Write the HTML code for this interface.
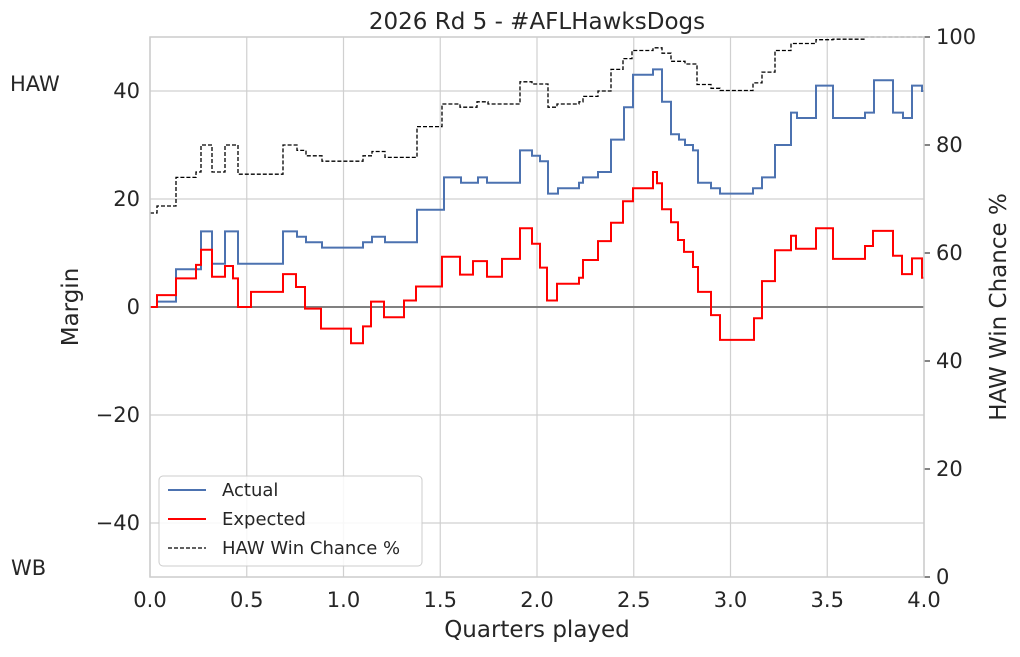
<!DOCTYPE html>
<html><head><meta charset="utf-8"><style>
body{margin:0;background:#fff;font-family:"Liberation Sans","DejaVu Sans",sans-serif}
svg text{font-family:"DejaVu Sans","Liberation Sans",sans-serif;fill:#262626}
</style></head><body>
<svg id="chart" width="1020" height="652" xmlns="http://www.w3.org/2000/svg">
<g id="grid"></g>
<g id="series"></g>
<g id="axes"></g>
<text x="537" y="29" font-size="23" text-anchor="middle">2026 Rd 5 - #AFLHawksDogs</text>
<text x="537" y="637" font-size="23" text-anchor="middle">Quarters played</text>
<text transform="translate(78,307) rotate(-90)" font-size="23" text-anchor="middle">Margin</text>
<text transform="translate(1006,307) rotate(-90)" font-size="23" text-anchor="middle">HAW Win Chance %</text>
<text x="10" y="91" font-size="21">HAW</text>
<text x="11" y="575" font-size="21">WB</text>
<g>
<rect x="159" y="476" width="263" height="90" rx="4" fill="#fff" fill-opacity="0.85" stroke="#ccc"/>
<line x1="168" y1="490" x2="206" y2="490" stroke="#4c72b0" stroke-width="2"/>
<text x="222" y="496" font-size="18">Actual</text>
<line x1="168" y1="519" x2="206" y2="519" stroke="#ff0000" stroke-width="2"/>
<text x="222" y="525" font-size="18">Expected</text>
<line x1="168" y1="548" x2="206" y2="548" stroke="#000" stroke-width="1.3" stroke-dasharray="4,2"/>
<text x="222" y="554" font-size="18">HAW Win Chance %</text>
</g>
</svg>
<script>
const actualX=[0,157,176,201,212,225,238,283,297,306,322,363,372,385,417,444,461,478,487,520,532,540,548,558,579,583,598,611,624,633,653,662,671,679,685,693,698,711,720,753,762,775,791,797,816,833,865,874,893,903,912,922];
const actualY=[0,1,7,14,8,14,8,14,13,12,11,12,13,12,18,24,23,24,23,29,28,27,21,22,23,24,25,31,37,43,44,38,32,31,30,29,23,22,21,22,24,30,36,35,41,35,36,42,36,35,41,40];
const expX=[0,157,176,196,201,212,225,233,238,251,283,296,305,321,351,363,371,384,404,416,442,460,473,487,502,520,532,540,547,557,579,583,598,611,623,633,653,657,662,671,678,684,693,698,711,720,754,762,775,791,796,816,833,865,873,893,902,912,922];
const expY=[0,2.2,5.3,7.8,10.6,5.6,7.6,5.3,0,2.8,6.1,3.7,-0.3,-4,-6.7,-3.6,1,-1.9,1.2,3.8,9.3,6,8.5,5.6,8.9,14.6,11.7,7.3,1.2,4.3,5.4,8.7,12.2,15.6,19.6,22,25,22.9,18.1,15.7,12.4,10.2,7.4,2.8,-1.5,-6.1,-2.1,4.8,10.5,13.2,10.8,14.6,8.9,11.3,14.1,9.5,6.1,9,5.4];
const winX=[0,157,176,196,201,212,225,238,283,297,306,322,363,372,385,417,442,460,477,488,520,532,548,557,579,583,598,611,623,632,653,662,671,685,697,711,720,753,762,775,791,816,833,865];
const winY=[67.4,68.7,74,75,80,75,80,74.6,80,79,78,77,78,78.8,77.7,83.4,87.6,87,88,87.6,91.7,91.3,87,87.6,88,89,90,94,96,97.5,98,97,95.5,95,91.2,90.5,90.1,91.5,93.5,97.5,98.8,99.5,99.6,100];
const xTicks=[0,0.5,1,1.5,2,2.5,3,3.5,4];
const yTicks=[-40,-20,0,20,40];
const y2Ticks=[0,20,40,60,80,100];
const NS="http://www.w3.org/2000/svg";
const L=150,R=924,T=37,B=577;
const toQ=p=>(p-150)/193.5;
const sx=v=>L+(v/4)*(R-L);
const sy=v=>T+(50-v)/100*(B-T);
const sy2=v=>T+(100-v)/100*(B-T);
function el(t,a,p){const e=document.createElementNS(NS,t);for(const k in a)e.setAttribute(k,a[k]);p.appendChild(e);return e;}
const grid=document.getElementById('grid'),axes=document.getElementById('axes'),ser=document.getElementById('series');
xTicks.forEach(v=>{const l=el('line',{x1:sx(v),x2:sx(v),y1:T,y2:B,stroke:'#d0d0d0','stroke-width':1.2},grid);


const t=el('text',{x:sx(v),y:B+30,'font-size':21,'text-anchor':'middle'},axes);t.textContent=v.toFixed(1);

});
yTicks.forEach(v=>{const l=el('line',{x1:L,x2:R,y1:sy(v),y2:sy(v),stroke:'#d0d0d0','stroke-width':1.2},grid);


const t=el('text',{x:L-10,y:sy(v)+7,'font-size':21,'text-anchor':'end'},axes);t.textContent=v<0?'\u2212'+(-v):String(v);

});
y2Ticks.forEach(v=>{const k=el('line',{x1:R,x2:R+6,y1:sy2(v),y2:sy2(v),stroke:'#333','stroke-width':1.2},axes);


const t=el('text',{x:R+12,y:sy2(v)+7,'font-size':21},axes);t.textContent=v;

});
const fr=el('rect',{x:L,y:T,width:R-L,height:B-T,fill:'none',stroke:'#ccc','stroke-width':1.5},axes);


const z=el('line',{x1:L,x2:R,y1:sy(0),y2:sy(0),stroke:'#808080','stroke-width':2},ser);


function step(xs,ys,fy){let d='';for(let i=0;i<xs.length;i++){const x=sx(i===0?0:toQ(xs[i])),y=fy(ys[i]);d+=(i===0?'M':'H')+x.toFixed(1)+(i===0?','+y.toFixed(1):'V'+y.toFixed(1));}d+='H'+sx(4);return d;}
const pw=el('path',{d:step(winX,winY,sy2),fill:'none',stroke:'#000','stroke-width':1.3,'stroke-dasharray':'4,2'},ser);


const pa=el('path',{d:step(actualX,actualY,sy),fill:'none',stroke:'#4c72b0','stroke-width':2},ser);


const pe=el('path',{d:step(expX,expY,sy),fill:'none',stroke:'#ff0000','stroke-width':2},ser);


</script>
</body></html>
